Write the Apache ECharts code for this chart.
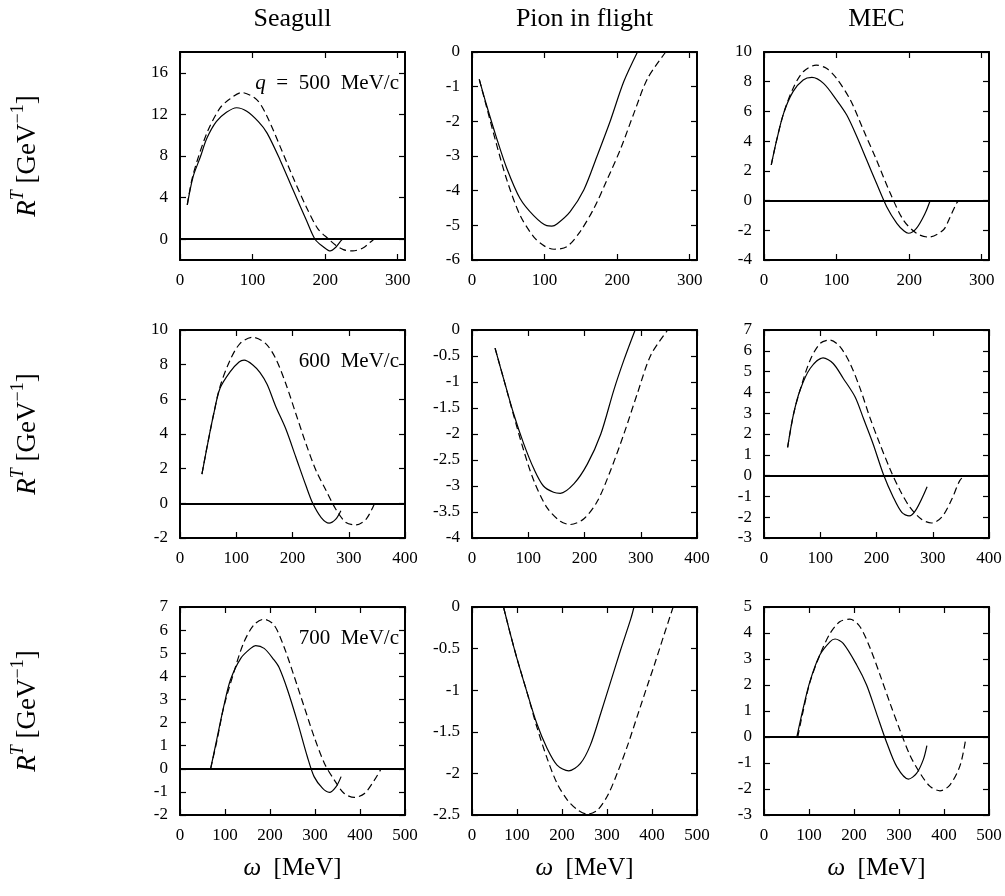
<!DOCTYPE html>
<html><head><meta charset="utf-8">
<script src="https://cdn.jsdelivr.net/npm/echarts@6/dist/echarts.min.js"></script>
<style>html,body{margin:0;padding:0;background:#fff}#c{width:1005px;height:896px}</style>
</head><body><div id="c"></div>
<script>
// ---------- text ----------
const colTitles = ['Seagull', 'Pion in flight', 'MEC'];
const rowMomenta = ['500', '600', '700'];

// ---------- axis ranges & ticks (per row / per panel) ----------
const xRanges = [[0, 310], [0, 400], [0, 500]];
const xTicks = [[0, 100, 200, 300], [0, 100, 200, 300, 400], [0, 100, 200, 300, 400, 500]];
const yRanges = [
  [[-2, 18], [-6, 0], [-4, 10]],
  [[-2, 10], [-4, 0], [-3, 7]],
  [[-2, 7], [-2.5, 0], [-3, 5]]
];
const yTicks = [
  [[0, 4, 8, 12, 16], [-6, -5, -4, -3, -2, -1, 0], [-4, -2, 0, 2, 4, 6, 8, 10]],
  [[-2, 0, 2, 4, 6, 8, 10], [-4, -3.5, -3, -2.5, -2, -1.5, -1, -0.5, 0], [-3, -2, -1, 0, 1, 2, 3, 4, 5, 6, 7]],
  [[-2, -1, 0, 1, 2, 3, 4, 5, 6, 7], [-2.5, -2, -1.5, -1, -0.5, 0], [-3, -2, -1, 0, 1, 2, 3, 4, 5]]
];

// ---------- data: [omega (MeV), R^T (GeV^-1)] ----------
const seagull500Solid = [[10,3.3],[18,6.0],[28,7.9],[37,9.7],[50,11.3],[64,12.2],[78,12.64],[92,12.3],[108,11.3],[120,10.2],[138,7.6],[156,4.7],[174,1.85],[186,0],[197,-0.7],[207,-1.13],[215,-0.75],[220,-0.3],[224,0]];
const seagull500Dashed = [[10,3.3],[18,6.2],[37,10.2],[55,12.6],[69,13.5],[85,14.1],[106,13.4],[120,11.8],[138,8.9],[156,5.9],[174,3.1],[190,1.0],[205,0],[215,-0.6],[225,-1.0],[238,-1.13],[252,-0.85],[262,-0.3],[267,0]];

const pion500Solid = [[10,-0.79],[20,-1.53],[34,-2.49],[48,-3.36],[66,-4.22],[85,-4.72],[103,-5.01],[110,-5.02],[117,-4.96],[135,-4.61],[154,-3.98],[172,-3.02],[191,-1.96],[209,-0.86],[228,0]];
const pion500Dashed = [[10,-0.79],[20,-1.58],[34,-2.68],[48,-3.69],[66,-4.70],[85,-5.33],[100,-5.6],[113,-5.69],[131,-5.61],[149,-5.18],[168,-4.51],[186,-3.69],[205,-2.78],[223,-1.77],[242,-0.76],[267,0]];

const mec500Solid = [[10,2.4],[17.5,4.08],[27,5.87],[40,7.33],[54,8.12],[66,8.29],[82,7.89],[100,6.77],[114,5.76],[128,4.3],[141.5,2.73],[155,1.16],[169,-0.41],[183,-1.53],[193,-2.05],[199,-2.2],[210,-1.87],[222,-0.86],[229,0]];
const mec500Dashed = [[10,2.4],[17.5,4.08],[27,5.87],[40,7.55],[54,8.67],[72,9.12],[86,8.9],[100,8.22],[119,6.77],[137,4.75],[155,2.73],[174,0.49],[192,-1.31],[210,-2.2],[227,-2.46],[247,-1.98],[256,-1.15],[265,-0.2],[268,0]];

const seagull600Solid = [[39,1.69],[48,3.24],[60,5.17],[71,6.62],[89,7.58],[105,8.15],[114,8.26],[129,8.0],[142,7.55],[155,6.85],[170,5.6],[188,4.3],[206,2.66],[224,1.01],[236,0],[251,-0.82],[265,-1.14],[277,-0.91],[286,-0.43]];
const seagull600Dashed = [[39,1.69],[48,3.24],[60,5.17],[71,6.72],[89,8.26],[107,9.23],[129,9.58],[152,9.23],[170,8.36],[188,6.91],[206,5.17],[224,3.43],[242,1.88],[260,0.72],[277,-0.34],[295,-1.1],[313,-1.24],[331,-0.91],[346,0]];

const pion600Solid = [[41,-0.35],[56,-0.93],[74,-1.61],[92,-2.19],[110,-2.67],[127,-3.0],[145,-3.12],[157,-3.14],[181,-2.96],[205,-2.58],[229,-2.0],[252,-1.16],[270,-0.58],[290,0]];
const pion600Dashed = [[41,-0.35],[56,-0.93],[74,-1.64],[92,-2.32],[110,-2.9],[133,-3.41],[157,-3.68],[175,-3.74],[199,-3.63],[223,-3.29],[246,-2.71],[270,-2.0],[294,-1.22],[318,-0.48],[348,0]];

const mec600Solid = [[42,1.36],[52,2.89],[64,4.1],[82,5.15],[105,5.66],[123,5.39],[141,4.67],[162,3.78],[177,2.73],[194,1.52],[212,0.08],[230,-1.05],[245,-1.77],[258,-1.94],[271,-1.61],[290,-0.54]];
const mec600Dashed = [[42,1.36],[52,2.89],[64,4.1],[82,5.55],[100,6.36],[117,6.52],[135,6.2],[153,5.39],[171,4.18],[188,2.81],[206,1.52],[224,0.32],[242,-0.72],[260,-1.54],[280,-2.1],[298,-2.28],[316,-2.0],[334,-1.13],[348,-0.24],[357,0]];

const seagull700Solid = [[68,0],[83,1.39],[97,2.68],[112,3.84],[135,4.78],[157,5.21],[168,5.33],[187,5.21],[209,4.71],[220,4.39],[239,3.41],[261,2.03],[283,0.52],[298,-0.34],[317,-0.85],[332,-1.02],[347,-0.77],[358,-0.34]];
const seagull700Dashed = [[68,0],[83,1.3],[97,2.65],[119,4.13],[141,5.43],[164,6.22],[186,6.47],[209,6.22],[231,5.28],[254,3.98],[276,2.68],[298,1.39],[321,0.23],[343,-0.49],[365,-1.07],[388,-1.24],[410,-1.07],[432,-0.49],[447,0]];

const pion700Solid = [[70,0],[85,-0.32],[100,-0.62],[122,-1.02],[144,-1.4],[167,-1.7],[189,-1.9],[215,-1.97],[241,-1.88],[263,-1.66],[286,-1.28],[308,-0.9],[330,-0.52],[353,-0.14],[360,0]];
const pion700Dashed = [[70,0],[85,-0.32],[100,-0.62],[122,-1.02],[144,-1.44],[167,-1.82],[189,-2.12],[212,-2.32],[235,-2.44],[257,-2.49],[279,-2.44],[302,-2.26],[324,-1.98],[346,-1.66],[368,-1.3],[390,-0.94],[405,-0.7],[427,-0.33],[447,0]];

const mec700Solid = [[73,0],[87,1.1],[102,2.13],[124,3.15],[147,3.67],[158,3.77],[176,3.6],[206,2.77],[228,2.0],[250,0.91],[273,-0.23],[295,-1.14],[321,-1.62],[339,-1.4],[354,-0.87],[362,-0.33]];
const mec700Dashed = [[75,0],[87,1.0],[102,2.1],[124,3.15],[147,3.99],[169,4.44],[191,4.53],[213,4.25],[236,3.41],[258,2.38],[280,1.3],[302,0.27],[324,-0.69],[347,-1.4],[369,-1.9],[391,-2.07],[413,-1.85],[436,-1.08],[449,0]];

const panelData = [
  [[seagull500Solid, seagull500Dashed], [pion500Solid, pion500Dashed], [mec500Solid, mec500Dashed]],
  [[seagull600Solid, seagull600Dashed], [pion600Solid, pion600Dashed], [mec600Solid, mec600Dashed]],
  [[seagull700Solid, seagull700Dashed], [pion700Solid, pion700Dashed], [mec700Solid, mec700Dashed]]
];
const zeroLine = [true, false, true]; // per column

// ---------- layout ----------
const colLeft = [180, 472, 764];
const rowTop = [52, 330, 607];
const W = 225, H = 208;
const FONT = '"Liberation Serif", "DejaVu Serif", serif';

const grids = [], xAxes = [], yAxes = [], series = [];
function axisCommon(min, max, ticks, pos, showLabel, gi) {
  return {
    type: 'value', gridIndex: gi, min: min, max: max, position: pos,
    axisLine: { show: true, onZero: false, lineStyle: { color: '#000', width: 2 } },
    axisTick: { show: true, inside: true, length: 6, customValues: ticks, lineStyle: { color: '#000', width: 1.2 } },
    axisLabel: { show: showLabel, customValues: ticks, color: '#000', fontFamily: FONT, fontSize: 17, margin: 12 },
    splitLine: { show: false }
  };
}
let gi = 0;
for (let r = 0; r < 3; r++) {
  for (let c = 0; c < 3; c++) {
    grids.push({ left: colLeft[c], top: rowTop[r], width: W, height: H });
    const [xmin, xmax] = xRanges[r];
    const [ymin, ymax] = yRanges[r][c];
    xAxes.push(axisCommon(xmin, xmax, xTicks[r], 'bottom', true, gi));
    xAxes.push(axisCommon(xmin, xmax, xTicks[r], 'top', false, gi));
    yAxes.push(axisCommon(ymin, ymax, yTicks[r][c], 'left', true, gi));
    yAxes.push(axisCommon(ymin, ymax, yTicks[r][c], 'right', false, gi));
    const [sol, dash] = panelData[r][c];
    const s1 = {
      type: 'line', xAxisIndex: gi * 2, yAxisIndex: gi * 2, data: sol,
      symbol: 'none', smooth: 0.3, silent: true, clip: true,
      lineStyle: { color: '#000', width: 1.2 }, z: 3
    };
    if (zeroLine[c]) {
      s1.markLine = {
        silent: true, symbol: 'none', label: { show: false },
        lineStyle: { color: '#000', width: 2, type: 'solid' },
        data: [{ yAxis: 0 }], animation: false
      };
    }
    series.push(s1);
    series.push({
      type: 'line', xAxisIndex: gi * 2, yAxisIndex: gi * 2, data: dash,
      symbol: 'none', smooth: 0.3, silent: true, clip: true,
      lineStyle: { color: '#000', width: 1.2, type: [7, 4] }, z: 3
    });
    gi++;
  }
}

// ---------- text graphics ----------
const graphics = [];
function txt(x, y, text, rich, size) {
  return {
    type: 'text', x: x, y: y, silent: true,
    style: {
      text: text, rich: rich, fill: '#000', fontFamily: FONT, fontSize: size || 22,
      align: 'center', verticalAlign: 'middle', textAlign: 'center', textVerticalAlign: 'middle'
    }
  };
}
colTitles.forEach((t, c) => {
  graphics.push(txt(colLeft[c] + W / 2, 19, t, undefined, 26));
});
const yRich = {
  i: { fontFamily: FONT, fontSize: 27, fontStyle: 'italic', lineHeight: 38 },
  n: { fontFamily: FONT, fontSize: 27, lineHeight: 38 },
  si: { fontFamily: FONT, fontSize: 18, fontStyle: 'italic', verticalAlign: 'top' },
  sup: { fontFamily: FONT, fontSize: 18, verticalAlign: 'top' }
};
rowTop.forEach((t) => {
  const g = txt(28, t + H / 2, '{i|R}{si|T}{n| [GeV}{sup|\u22121}{n|]}', yRich);
  g.rotation = Math.PI / 2;
  graphics.push(g);
});
const xRich = {
  i: { fontFamily: FONT, fontSize: 25, fontStyle: 'italic' },
  n: { fontFamily: FONT, fontSize: 25 }
};
colLeft.forEach((l) => {
  graphics.push(txt(l + W / 2, 868, '{i|\u03c9}{n|  [MeV]}', xRich));
});
const aRich = {
  i: { fontFamily: FONT, fontSize: 21, fontStyle: 'italic' },
  n: { fontFamily: FONT, fontSize: 21 }
};
rowMomenta.forEach((m, r) => {
  const s = r === 0 ? '{i|q}{n|  =  ' + m + '  MeV/c}' : '{n|' + m + '  MeV/c}';
  const g = txt(colLeft[0] + W - 6, rowTop[r] + 31, s, aRich);
  g.style.align = 'right'; g.style.textAlign = 'right';
  graphics.push(g);
});

const chart = echarts.init(document.getElementById('c'), null, { renderer: 'canvas' });
chart.setOption({
  animation: false,
  backgroundColor: '#fff',
  grid: grids, xAxis: xAxes, yAxis: yAxes, series: series,
  graphic: { elements: graphics }
});
</script>
</body></html>
